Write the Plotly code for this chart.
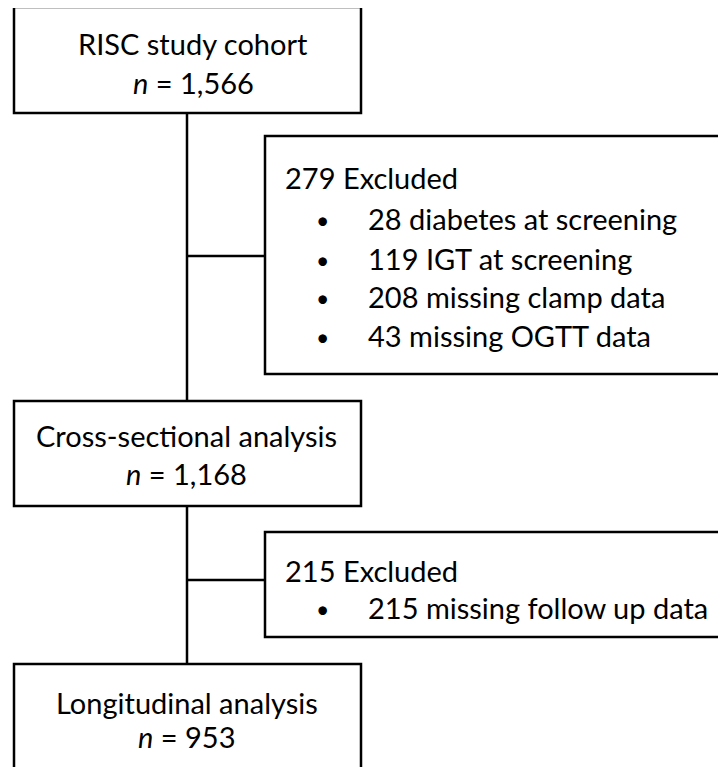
import plotly.graph_objects as go

# ---- content ----
main_titles = ["RISC study cohort", "Cross-sectional analysis", "Longitudinal analysis"]
main_counts = ["1,566", "1,168", "953"]
excl_titles = ["279 Excluded", "215 Excluded"]
excl_items = [
    ["28 diabetes at screening", "119 IGT at screening", "208 missing clamp data", "43 missing OGTT data"],
    ["215 missing follow up data"],
]

# ---- layout geometry (page pixels) ----
W, H = 726, 767
OFF = 8  # default body margin of the page
main_boxes = [(14, 7, 361, 113), (14, 401, 361, 506), (14, 664, 361, 800)]
main_text_cx = [193, 186, 187]
main_text_y = [(43, 82), (435, 473), (702, 736)]
excl_boxes = [(265, 136, 745, 374), (265, 532, 745, 637)]
excl_title_y = [177, 570]
excl_item_y = [[218, 258, 296, 335], [607]]
connector_y = [256, 580]
spine_x = 187

FONT = "Lato"
FS = 29
LW = 2.5

fig = go.Figure()
shapes = []
ann = []
line = dict(color="black", width=LW)
tfont = dict(family=FONT, size=FS, color="black")
bfont = dict(family=FONT, size=23, color="black")

# spine and connectors
shapes.append(dict(type="line", x0=spine_x, x1=spine_x, y0=main_boxes[0][3], y1=main_boxes[2][1], line=line))
for cy, eb in zip(connector_y, excl_boxes):
    shapes.append(dict(type="line", x0=spine_x, x1=eb[0], y0=cy, y1=cy, line=line))

for (x0, y0, x1, y1), cx, (ty1, ty2), t, c in zip(main_boxes, main_text_cx, main_text_y, main_titles, main_counts):
    shapes.append(dict(type="rect", x0=x0, y0=y0, x1=x1, y1=y1, line=line, fillcolor="white"))
    ann.append(dict(x=cx, y=ty1, text=t, showarrow=False, xanchor="center", yanchor="middle", font=tfont))
    ann.append(dict(x=cx, y=ty2, text="<i>n</i> = " + c, showarrow=False, xanchor="center",
                    yanchor="middle", font=tfont))

for eb, title, ty, items, iys in zip(excl_boxes, excl_titles, excl_title_y, excl_items, excl_item_y):
    x0, y0, x1, y1 = eb
    shapes.append(dict(type="rect", x0=x0, y0=y0, x1=x1, y1=y1, line=line, fillcolor="white"))
    ann.append(dict(x=x0 + 18, y=ty, text=title, showarrow=False, xanchor="left", yanchor="middle", font=tfont))
    for it, iy in zip(items, iys):
        ann.append(dict(x=x0 + 57, y=iy + 2, text="•", showarrow=False, xanchor="center", yanchor="middle",
                        font=bfont))
        ann.append(dict(x=x0 + 101, y=iy, text=it, showarrow=False, xanchor="left", yanchor="middle",
                        font=tfont))

fig.update_layout(
    width=W - OFF, height=H - OFF, margin=dict(l=0, r=0, t=0, b=0, pad=0),
    plot_bgcolor="white", paper_bgcolor="white",
    shapes=shapes, annotations=ann, showlegend=False,
    xaxis=dict(range=[OFF, W], visible=False, fixedrange=True),
    yaxis=dict(range=[H, OFF], visible=False, fixedrange=True),
)
fig.write_html("out.html", config={"displayModeBar": False})
